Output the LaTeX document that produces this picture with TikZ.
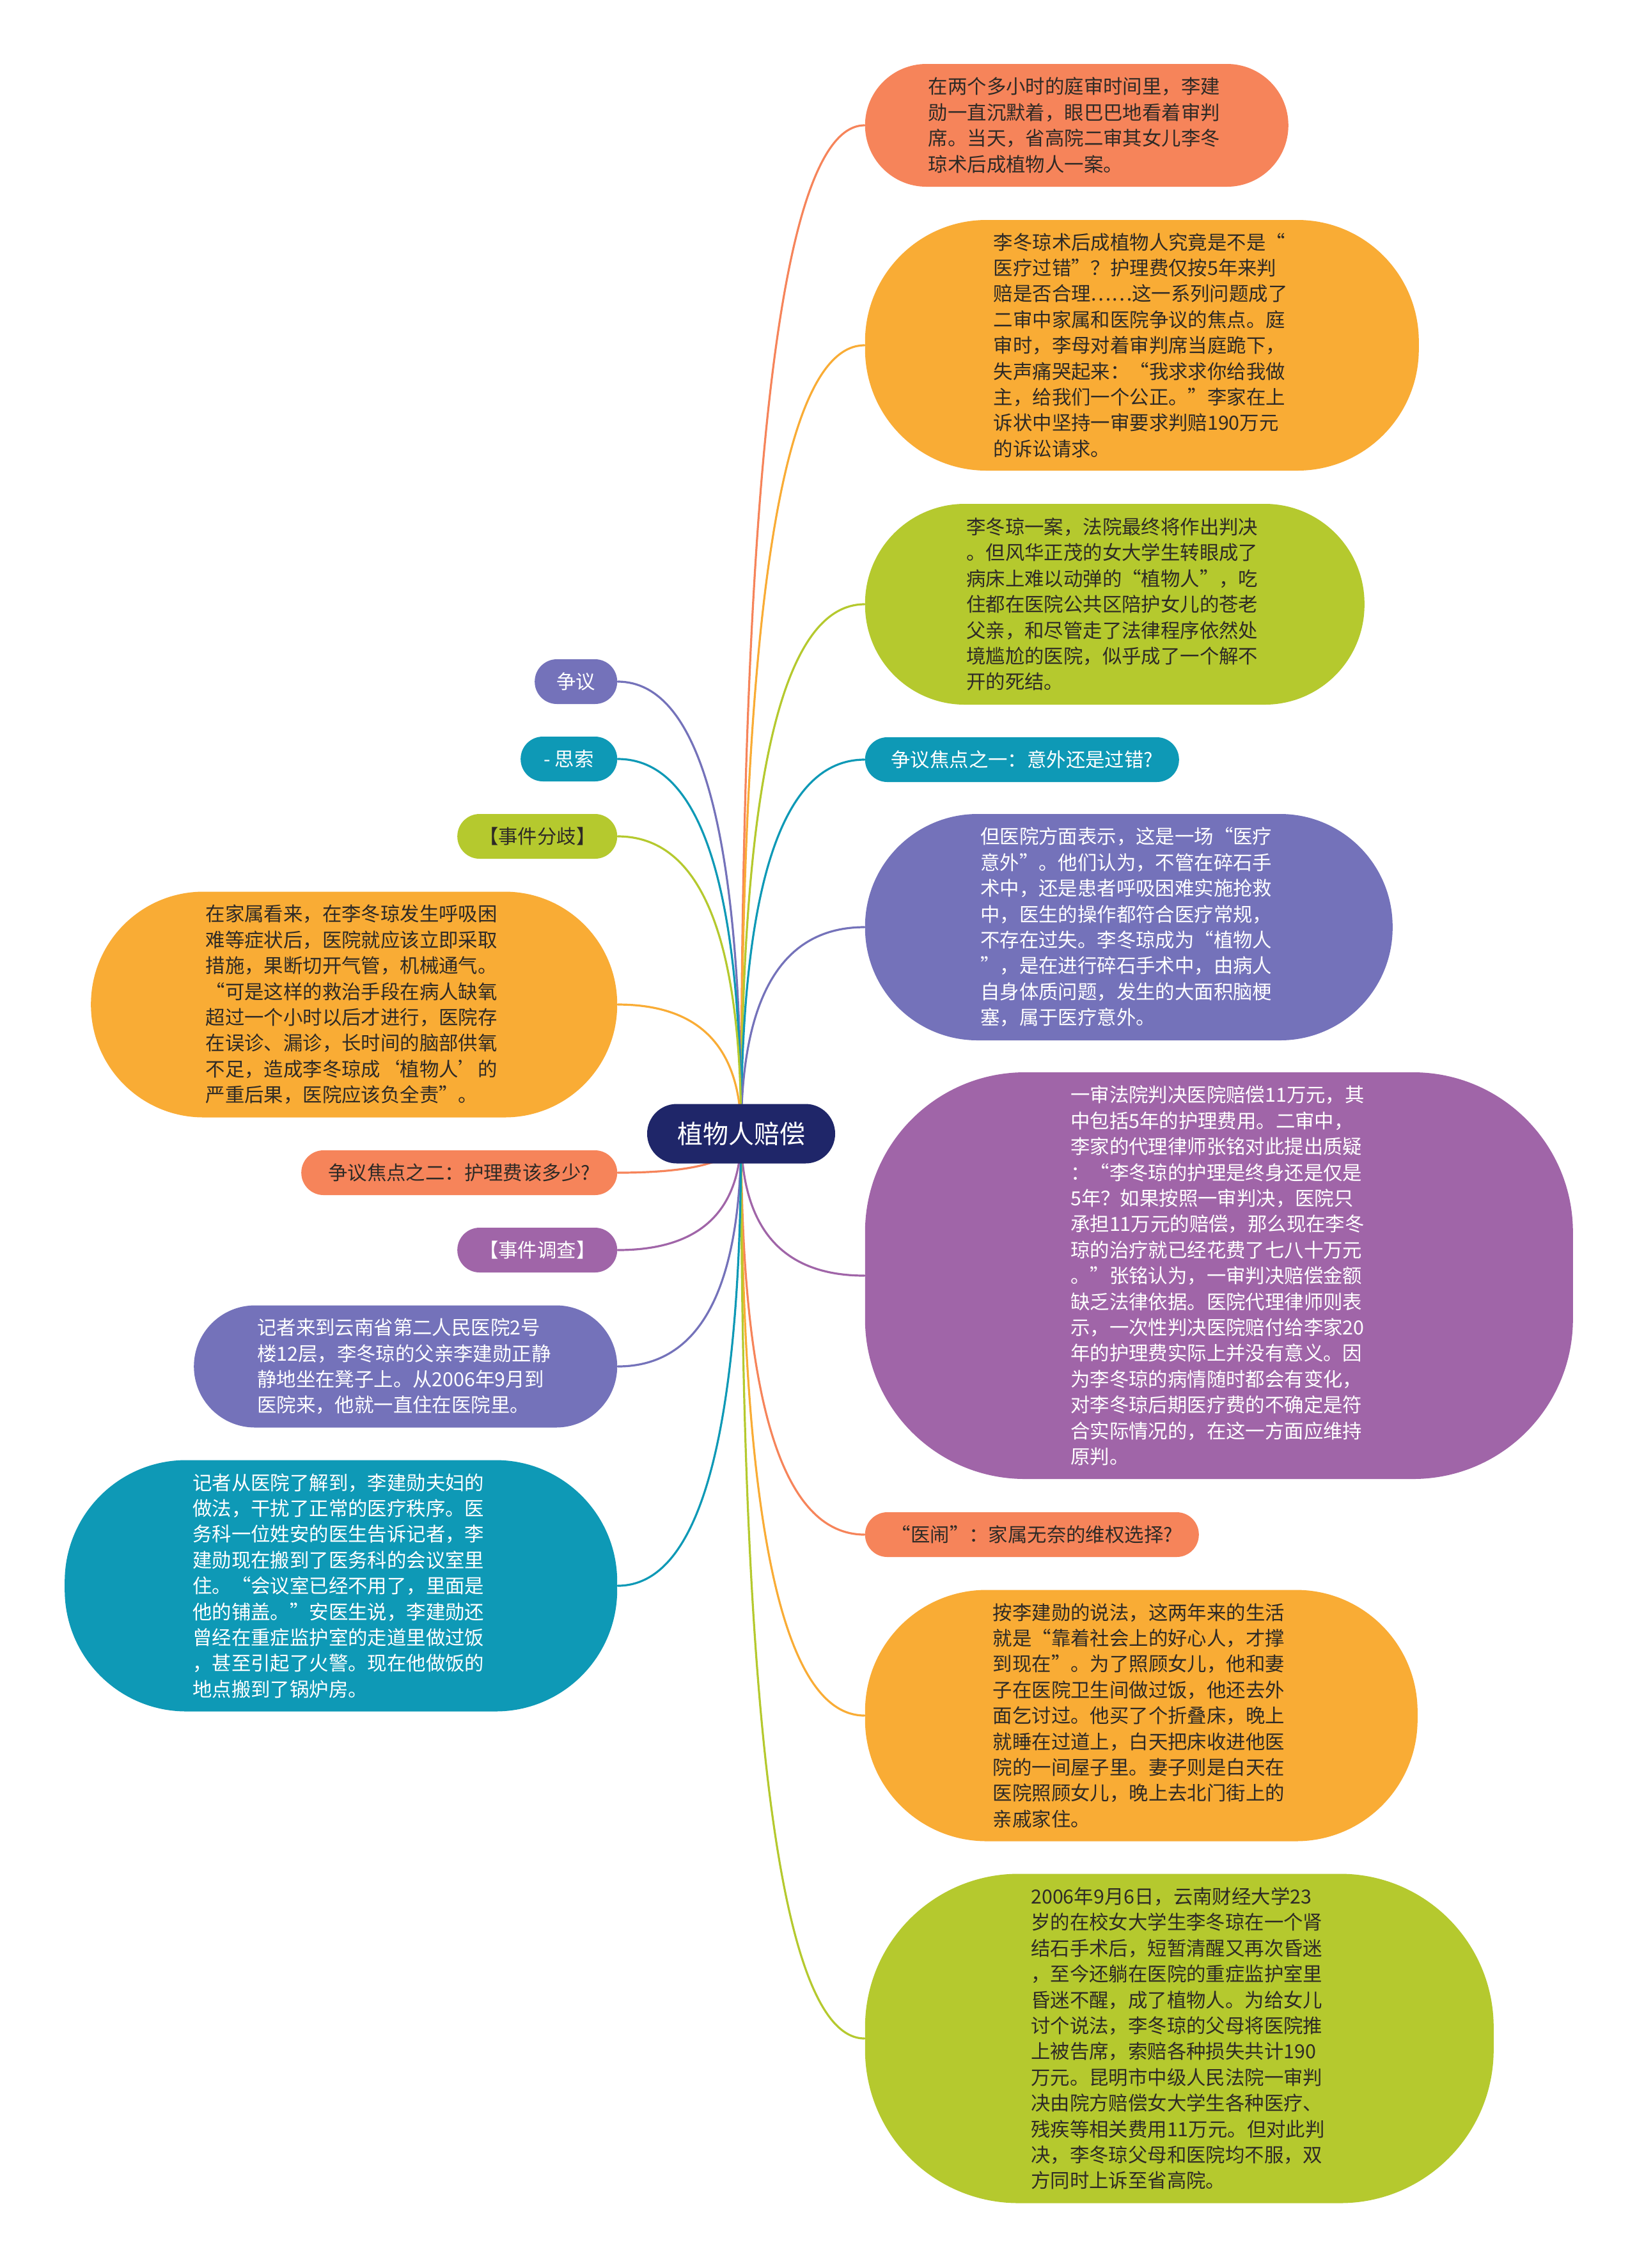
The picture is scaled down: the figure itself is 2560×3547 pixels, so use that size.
\documentclass[tikz,border=0pt]{standalone}
\usepackage{fontspec}
\setmainfont{Noto Sans CJK SC}
\usepackage{xcolor}
\usepackage{tikz}
\usetikzlibrary{calc, backgrounds, positioning}
\definecolor{mmnavy}{HTML}{1F2669}
\definecolor{mmcoral}{HTML}{F6845A}
\definecolor{mmamber}{HTML}{F9AC35}
\definecolor{mmlime}{HTML}{B5C92E}
\definecolor{mmteal}{HTML}{0E99B6}
\definecolor{mmiris}{HTML}{7472BA}
\definecolor{mmplum}{HTML}{A065A8}
\definecolor{mmdark}{HTML}{2E2A26}
\tikzset{
  rootnode/.style={rectangle, rounded corners=11.6pt, minimum width=73.5pt, minimum height=23.25pt, inner sep=0pt, fill=mmnavy, text=white, font=\fontsize{10}{12}\selectfont},
  leaf/.style={rectangle, inner sep=0pt, align=left, text=mmdark, font=\fontsize{7.6}{10.1}\selectfont},
  tag/.style={rectangle, rounded corners=8.7pt, minimum height=17.5pt, inner sep=0pt, text=mmdark, font=\fontsize{7.6}{10.1}\selectfont},
  link/.style={line width=0.8pt, line cap=round, to path={.. controls ($(\tikztostart)!0.667!(\tikztostart |- \tikztotarget)$) and ($(\tikztotarget)!0.667!(\tikztostart |- \tikztotarget)$) .. (\tikztotarget)}}
}

\begin{document}
\begin{tikzpicture}[x=0.25pt, y=-0.25pt]
\useasboundingbox (0,0) rectangle (2560,3547);

\node[rootnode] (root) at (1159,1773) {植物人赔偿};

% right branches
\node[leaf, fill=mmcoral, anchor=west, minimum width=165.5pt, minimum height=48pt, rounded corners=24pt, text width=116pt] (r1) at (1352,196) {在两个多小时的庭审时间里，李建\\勋一直沉默着，眼巴巴地看着审判\\席。当天，省高院二审其女儿李冬\\琼术后成植物人一案。};
\node[leaf, fill=mmamber, anchor=west, minimum width=216.5pt, minimum height=98pt, rounded corners=47.5pt, text width=116pt] (r2) at (1352,540) {李冬琼术后成植物人究竟是不是“\\医疗过错”？护理费仅按5年来判\\赔是否合理……这一系列问题成了\\二审中家属和医院争议的焦点。庭\\审时，李母对着审判席当庭跪下，\\失声痛哭起来：“我求求你给我做\\主，给我们一个公正。”李家在上\\诉状中坚持一审要求判赔190万元\\的诉讼请求。};
\node[leaf, fill=mmlime, anchor=west, minimum width=195.25pt, minimum height=78.5pt, rounded corners=39pt, text width=116pt] (r3) at (1352,945) {李冬琼一案，法院最终将作出判决\\。但风华正茂的女大学生转眼成了\\病床上难以动弹的“植物人”，吃\\住都在医院公共区陪护女儿的苍老\\父亲，和尽管走了法律程序依然处\\境尴尬的医院，似乎成了一个解不\\开的死结。};
\node[tag, fill=mmteal, text=white, anchor=west, minimum width=122.75pt] (r4) at (1352,1188) {争议焦点之一：意外还是过错?};
\node[leaf, fill=mmiris, text=white, anchor=west, minimum width=206.25pt, minimum height=88.5pt, rounded corners=44pt, text width=116pt] (r5) at (1352,1450) {但医院方面表示，这是一场“医疗\\意外”。他们认为，不管在碎石手\\术中，还是患者呼吸困难实施抢救\\中，医生的操作都符合医疗常规，\\不存在过失。李冬琼成为“植物人\\”，是在进行碎石手术中，由病人\\自身体质问题，发生的大面积脑梗\\塞，属于医疗意外。};
\node[leaf, fill=mmplum, text=white, anchor=west, minimum width=276.75pt, minimum height=159pt, rounded corners=62.5pt, text width=116pt] (r6) at (1352,1995) {一审法院判决医院赔偿11万元，其\\中包括5年的护理费用。二审中，\\李家的代理律师张铭对此提出质疑\\：“李冬琼的护理是终身还是仅是\\5年？如果按照一审判决，医院只\\承担11万元的赔偿，那么现在李冬\\琼的治疗就已经花费了七八十万元\\。”张铭认为，一审判决赔偿金额\\缺乏法律依据。医院代理律师则表\\示，一次性判决医院赔付给李家20\\年的护理费实际上并没有意义。因\\为李冬琼的病情随时都会有变化，\\对李冬琼后期医疗费的不确定是符\\合实际情况的，在这一方面应维持\\原判。};
\node[tag, fill=mmcoral, anchor=west, minimum width=130.5pt] (r7) at (1352,2400) {“医闹”：家属无奈的维权选择?};
\node[leaf, fill=mmamber, anchor=west, minimum width=216pt, minimum height=98.25pt, rounded corners=47.5pt, text width=116pt] (r8) at (1352,2683) {按李建勋的说法，这两年来的生活\\就是“靠着社会上的好心人，才撑\\到现在”。为了照顾女儿，他和妻\\子在医院卫生间做过饭，他还去外\\面乞讨过。他买了个折叠床，晚上\\就睡在过道上，白天把床收进他医\\院的一间屋子里。妻子则是白天在\\医院照顾女儿，晚上去北门街上的\\亲戚家住。};
\node[leaf, fill=mmlime, anchor=west, minimum width=245.75pt, minimum height=128.75pt, rounded corners=60pt, text width=116pt] (r9) at (1352,3188) {2006年9月6日，云南财经大学23\\岁的在校女大学生李冬琼在一个肾\\结石手术后，短暂清醒又再次昏迷\\，至今还躺在医院的重症监护室里\\昏迷不醒，成了植物人。为给女儿\\讨个说法，李冬琼的父母将医院推\\上被告席，索赔各种损失共计190\\万元。昆明市中级人民法院一审判\\决由院方赔偿女大学生各种医疗、\\残疾等相关费用11万元。但对此判\\决，李冬琼父母和医院均不服，双\\方同时上诉至省高院。};

% left branches
\node[tag, fill=mmiris, text=white, anchor=east, minimum width=32.25pt] (l1) at (966,1066) {争议};
\node[tag, fill=mmteal, text=white, anchor=east, minimum width=37.75pt] (l2) at (966,1187) {- 思索};
\node[tag, fill=mmlime, anchor=east, minimum width=62.5pt] (l3) at (966,1308) {【事件分歧】};
\node[leaf, fill=mmamber, anchor=east, minimum width=205.75pt, minimum height=88.25pt, rounded corners=44pt, text width=116pt] (l4) at (966,1571) {在家属看来，在李冬琼发生呼吸困\\难等症状后，医院就应该立即采取\\措施，果断切开气管，机械通气。\\“可是这样的救治手段在病人缺氧\\超过一个小时以后才进行，医院存\\在误诊、漏诊，长时间的脑部供氧\\不足，造成李冬琼成‘植物人’的\\严重后果，医院应该负全责”。};
\node[tag, fill=mmcoral, anchor=east, minimum width=123.5pt] (l5) at (966,1834) {争议焦点之二：护理费该多少?};
\node[tag, fill=mmplum, text=white, anchor=east, minimum width=62.5pt] (l6) at (966,1955) {【事件调查】};
\node[leaf, fill=mmiris, text=white, anchor=east, minimum width=165.5pt, minimum height=47.75pt, rounded corners=23.9pt, text width=116pt] (l7) at (966,2137) {记者来到云南省第二人民医院2号\\楼12层，李冬琼的父亲李建勋正静\\静地坐在凳子上。从2006年9月到\\医院来，他就一直住在医院里。};
\node[leaf, fill=mmteal, text=white, anchor=east, minimum width=216pt, minimum height=98.25pt, rounded corners=47.5pt, text width=116pt] (l8) at (966,2480) {记者从医院了解到，李建勋夫妇的\\做法，干扰了正常的医疗秩序。医\\务科一位姓安的医生告诉记者，李\\建勋现在搬到了医务科的会议室里\\住。“会议室已经不用了，里面是\\他的铺盖。”安医生说，李建勋还\\曾经在重症监护室的走道里做过饭\\，甚至引起了火警。现在他做饭的\\地点搬到了锅炉房。};

\begin{scope}[on background layer]
\fill[white] (0,0) rectangle (2560,3547);
\draw[link, mmcoral] (root.center) to (r1.west);
\draw[link, mmamber] (root.center) to (r2.west);
\draw[link, mmlime] (root.center) to (r3.west);
\draw[link, mmteal] (root.center) to (r4.west);
\draw[link, mmiris] (root.center) to (r5.west);
\draw[link, mmplum] (root.center) to (r6.west);
\draw[link, mmcoral] (root.center) to (r7.west);
\draw[link, mmamber] (root.center) to (r8.west);
\draw[link, mmlime] (root.center) to (r9.west);
\draw[link, mmiris] (root.center) to (l1.east);
\draw[link, mmteal] (root.center) to (l2.east);
\draw[link, mmlime] (root.center) to (l3.east);
\draw[link, mmamber] (root.center) to (l4.east);
\draw[link, mmcoral] (root.center) to (l5.east);
\draw[link, mmplum] (root.center) to (l6.east);
\draw[link, mmiris] (root.center) to (l7.east);
\draw[link, mmteal] (root.center) to (l8.east);
\end{scope}
\end{tikzpicture}
\end{document}
